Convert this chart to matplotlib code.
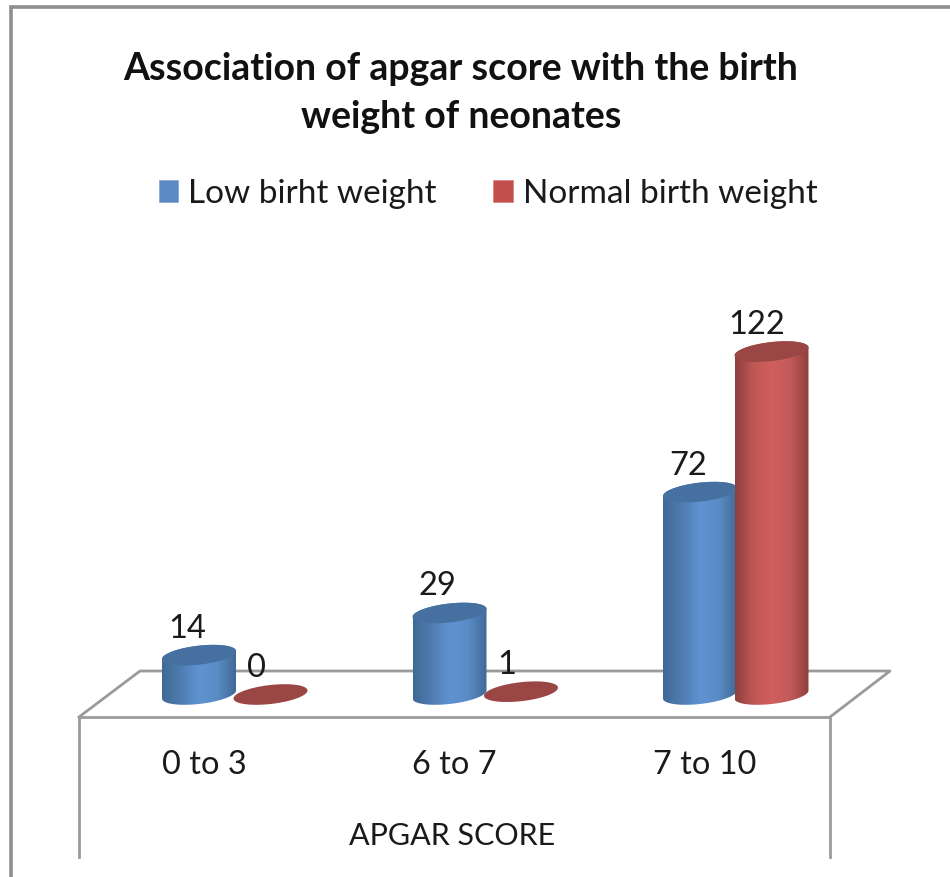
import matplotlib
matplotlib.use("Agg")
import matplotlib.pyplot as plt
import numpy as np
from matplotlib.colors import LinearSegmentedColormap
from matplotlib.patches import Patch, Polygon

categories = ["0 to 3", "6 to 7", "7 to 10"]
low_birth = [14, 29, 72]
normal_birth = [0, 1, 122]
series_names = ["Low birht weight", "Normal birth weight"]
title = "Association of apgar score with the birth\nweight of neonates"
xlabel = "APGAR SCORE"

W, H = 950, 877
plt.rcParams['font.family'] = ['Lato', 'DejaVu Sans']
TEXT = '#1a1a1a'
GREY = '#9a9a9a'

fig = plt.figure(figsize=(W / 100, H / 100), dpi=100)

# furniture drawn in pixel coords
bg = fig.add_axes([0, 0, 1, 1])
bg.set_xlim(0, W)
bg.set_ylim(H, 0)
bg.axis('off')
bg.plot([11, 11, W], [H, 7, 7], color='#8e8e8e', lw=2.6, solid_joinstyle='miter')
bg.plot([79, 79, 830, 830], [857, 717, 717, 857], color=GREY, lw=2)
bg.plot([79, 140, 890, 830], [717, 671, 671, 717], color=GREY, lw=2)

# data axes over the whole figure: category i at 204 + 250.5 i px, value 0 at 695 px
ax = fig.add_axes([0, 0, 1, 1])
ax.patch.set_alpha(0)
ax.axis('off')
xlim = (-204 / 250.5, (W - 204) / 250.5)
ylim = (-(H - 694.5) / 2.811, 694.5 / 2.811)

half_w = 37 / 250.5
ell_h = 9.5 / 2.811
shear = 4.0 / 2.811


def ellipse(cx, val, t):
    return cx + half_w * np.cos(t), val + ell_h * np.sin(t) + shear * np.cos(t)


def cylinder(cx, val, cmap, top_color):
    t = np.linspace(0, 2 * np.pi, 120)
    if val > 1:
        low = np.linspace(np.pi, 2 * np.pi, 60)
        high = np.linspace(0, np.pi, 60)
        bx, by = ellipse(cx, 0, low)
        tx, ty = ellipse(cx, val, high)
        outline = Polygon(np.column_stack([np.r_[bx, tx], np.r_[by, ty]]), closed=True,
                          fc='none', ec='none', zorder=3)
        ax.add_patch(outline)
        grad = np.linspace(0, 1, 256).reshape(1, -1)
        im = ax.imshow(grad, cmap=cmap, aspect='auto', zorder=3,
                       extent=(cx - half_w, cx + half_w, -ell_h - shear, val + ell_h + shear))
        im.set_clip_path(outline)
    ex, ey = ellipse(cx, val, t)
    ax.fill(ex, ey, color=top_color, lw=0, zorder=3)


blue_map = LinearSegmentedColormap.from_list('b', ['#3f6a96', '#4f7cb0', '#5f93d0', '#5a8cc6', '#3f6a96'])
red_map = LinearSegmentedColormap.from_list('r', ['#8e3f3d', '#c05755', '#d05f5d', '#c45a58', '#8e3f3d'])

for i, name in enumerate(categories):
    cylinder(i - 5 / 250.5, low_birth[i], blue_map, '#46709f')
    cylinder(i + 66.5 / 250.5, normal_birth[i], red_map, '#9a4644')
    for val, off in ((low_birth[i], -17), (normal_birth[i], 52)):
        ax.annotate(str(val), (i, val), xytext=(off * 0.72, 26.5 * 0.72), textcoords='offset points',
                    ha='center', va='center', fontsize=23.5, color=TEXT, zorder=4)
    ax.annotate(name, (i, 0), xytext=(0, -70 * 0.72), textcoords='offset points',
                ha='center', va='center', fontsize=23.4, color=TEXT)

ax.annotate(xlabel, (1, 0), xytext=(-2 * 0.72, -141.5 * 0.72), textcoords='offset points',
            ha='center', va='center', fontsize=22, color=TEXT)

ax.set_xlim(xlim)
ax.set_ylim(ylim)

fig.text(461 / W, 1 - 93.5 / H, title, ha='center', va='center', fontsize=27, fontweight='bold',
         color='#111111', linespacing=1.5)

handles = [Patch(fc='#5b8ac4', ec='#7fa5d5', lw=0.5), Patch(fc='#c4504d', ec='#d58080', lw=0.5)]
fig.legend(handles, series_names, loc='center', bbox_to_anchor=(488 / W, 1 - 194 / H), ncol=2,
           frameon=False, fontsize=24, handlelength=0.58, handleheight=0.65, handletextpad=0.3,
           columnspacing=1.7, labelcolor=TEXT)

fig.savefig('out.png', dpi=100)
